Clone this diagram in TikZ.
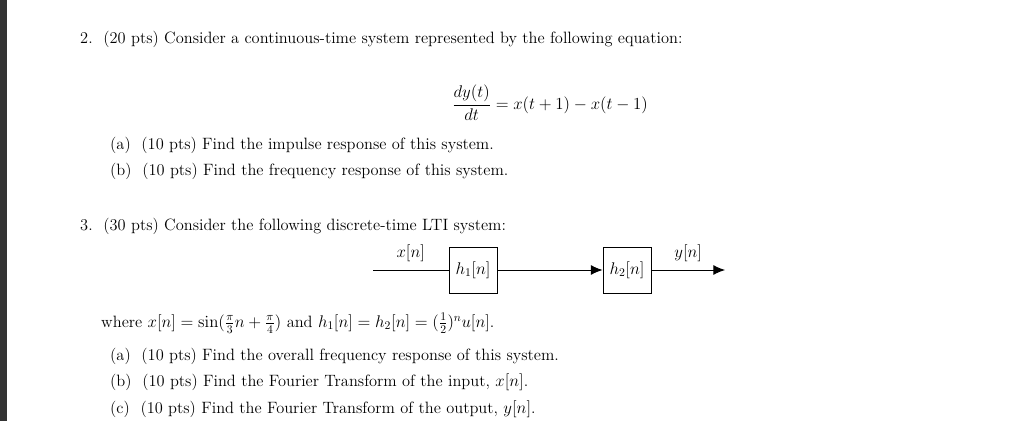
\documentclass[tikz,border=0pt]{standalone}
\usepackage{amsmath}
\usetikzlibrary{arrows.meta, positioning}
\tikzset{
    txt/.style={anchor=west, inner sep=0pt, font=\fontsize{14}{16}\selectfont},
    sysbox/.style={draw, thick, minimum width=1.44cm, minimum height=1.38cm, inner sep=0pt, font=\fontsize{14}{16}\selectfont},
    sig/.style={thick, -{Latex[length=3.5mm, width=3mm]}}
}
\begin{document}
\begin{tikzpicture}[x=0.03cm, y=-0.03cm]
        \useasboundingbox (0,0) rectangle (1024,421);
        \fill[black!80] (0,0) rectangle (7,421);

        % problem 2
        \node[txt] (p2) at (80,39) {2.\ \ (20 pts) Consider a continuous-time system represented by the following equation:};
        \node[txt] (eq) at (452,103) {$\dfrac{dy(t)}{dt} = x(t+1) - x(t-1)$};
        \node[txt] (p2a) at (110,145) {(a)\ \ (10 pts) Find the impulse response of this system.};
        \node[txt] (p2b) at (110,171) {(b)\ \ (10 pts) Find the frequency response of this system.};

        % problem 3
        \node[txt] (p3) at (80,226) {3.\ \ (30 pts) Consider the following discrete-time LTI system:};
        \coordinate (in) at (373,270);
        \node[sysbox] (h1) at (473,270) {$h_1[n]$};
        \node[sysbox] (h2) at (627,270) {$h_2[n]$};
        \coordinate (out) at (725,270);
        \draw[thick] (in) -- (h1.west) node[midway, above=3pt, font=\fontsize{14}{16}\selectfont] {$x[n]$};
        \draw[sig] (h1.east) -- (h2.west);
        \draw[sig] (h2.east) -- (out) node[midway, above=3pt, font=\fontsize{14}{16}\selectfont] {$y[n]$};

        \node[txt] (where) at (101,323) {where $x[n]=\sin(\frac{\pi}{3}n+\frac{\pi}{4})$ and $h_1[n]=h_2[n]=(\frac{1}{2})^n u[n]$.};
        \node[txt] (p3a) at (110,356) {(a)\ \ (10 pts) Find the overall frequency response of this system.};
        \node[txt] (p3b) at (110,382) {(b)\ \ (10 pts) Find the Fourier Transform of the input, $x[n]$.};
        \node[txt] (p3c) at (110,409) {(c)\ \ (10 pts) Find the Fourier Transform of the output, $y[n]$.};
\end{tikzpicture}
\end{document}
